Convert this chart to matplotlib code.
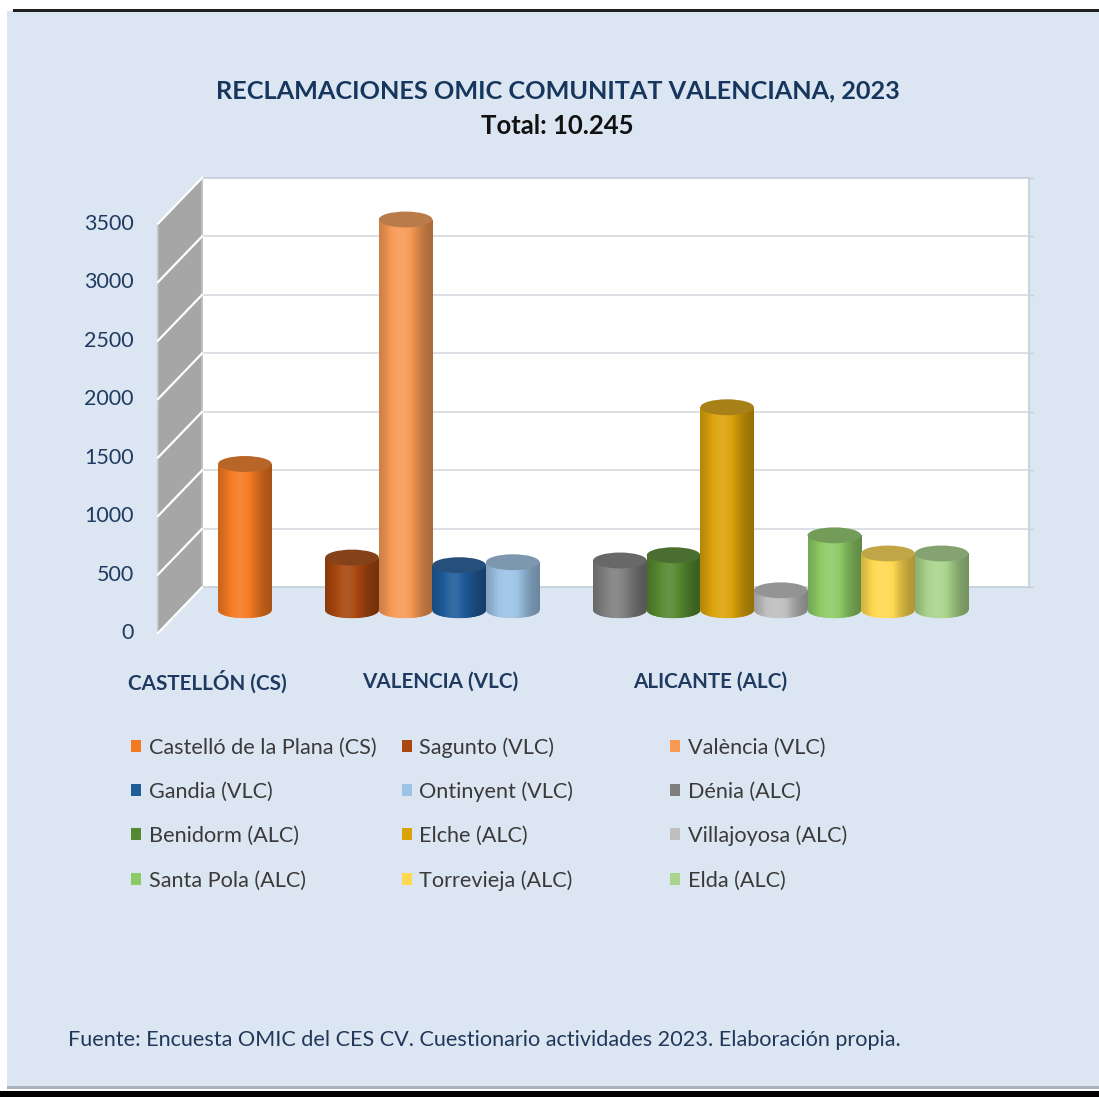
import numpy as np
import matplotlib
matplotlib.use("Agg")
import matplotlib.pyplot as plt
from matplotlib.patches import Rectangle, Ellipse, Polygon
from matplotlib.colors import to_rgb

plt.rcParams['font.family'] = ['Lato', 'DejaVu Sans']

# ---------------- data ----------------
title = "RECLAMACIONES OMIC COMUNITAT VALENCIANA, 2023"
subtitle = "Total: 10.245"
source = "Fuente: Encuesta OMIC del CES CV. Cuestionario actividades 2023. Elaboración propia."

provinces = ["CASTELLÓN (CS)", "VALENCIA (VLC)", "ALICANTE (ALC)"]
municipalities = ["Castelló de la Plana (CS)", "Sagunto (VLC)", "València (VLC)",
                  "Gandia (VLC)", "Ontinyent (VLC)", "Dénia (ALC)",
                  "Benidorm (ALC)", "Elche (ALC)", "Villajoyosa (ALC)",
                  "Santa Pola (ALC)", "Torrevieja (ALC)", "Elda (ALC)"]
province_of = [0, 1, 1, 1, 1, 2, 2, 2, 2, 2, 2, 2]
claims = [1250, 450, 3340, 385, 410, 425, 470, 1735, 170, 640, 485, 485]
colors = ["#F47A22", "#A8470F", "#F79A55", "#1F5C9A", "#9DC3E6", "#7F7F7F",
          "#55892F", "#DBA30A", "#BFBFBF", "#8DCB66", "#FFD94F", "#A9D48C"]
y_ticks = [0, 500, 1000, 1500, 2000, 2500, 3000, 3500]

# ---------------- figure ----------------
W, H = 1099, 1097
fig = plt.figure(figsize=(W / 100, H / 100), dpi=100)
fig.patch.set_facecolor("white")

def fx(x):
    return x / W

def fy(y):
    return 1 - y / H

# background panel and frame lines
fig.patches.append(Rectangle((fx(7), fy(1086)), fx(1099 - 7), (1086 - 11) / H,
                             transform=fig.transFigure, facecolor="#DCE6F2",
                             edgecolor="none", zorder=-10))
fig.patches.append(Rectangle((fx(13), fy(12)), fx(1099 - 13), 3 / H,
                             transform=fig.transFigure, facecolor="#202020",
                             edgecolor="none", zorder=-9))
fig.patches.append(Rectangle((fx(7), fy(1089)), fx(1099 - 7), 3 / H,
                             transform=fig.transFigure, facecolor="#A9B3BE",
                             edgecolor="none", zorder=-9))
fig.patches.append(Rectangle((0, 0), 1, 6 / H,
                             transform=fig.transFigure, facecolor="#000000",
                             edgecolor="none", zorder=-9))

navy = "#1F3A60"

fig.text(fx(558), fy(91), title, ha="center", va="center", fontsize=18.2,
         fontweight="bold", color="#17365D")
fig.text(fx(557), fy(126), subtitle, ha="center", va="center", fontsize=18.5,
         fontweight="bold", color="#111111")

# ---------------- axes (oblique 3D look) ----------------
ax = fig.add_axes([fx(143), fy(657), 895 / W, 503 / H])
ax.set_xlim(-1.9, 14.8)
ax.set_ylim(-400, 3900)
ax.axis("off")
ax.patch.set_alpha(0)

dx, dy = 0.41, 195          # depth offsets (slot units, value units)
xl, xr = -1.21, 14.23       # mid-depth horizontal extent
ymax = y_ticks[-1]

# back wall
ax.add_patch(Rectangle((xl + dx, dy), (xr - xl), ymax, facecolor="white",
                       edgecolor="#C5CED9", lw=1.2, zorder=0))
for v in y_ticks[1:-1]:
    ax.plot([xl + dx, xr + dx], [v + dy, v + dy], color="#D9DDE3", lw=1.3, zorder=1)
for v in y_ticks:
    ax.plot([xr + dx, xr + dx + 0.07], [v + dy, v + dy], color="#C5CED9", lw=1, zorder=1)

# side wall
ax.add_patch(Polygon([(xl - dx, -dy), (xl - dx, ymax - dy), (xl + dx, ymax + dy),
                      (xl + dx, dy)], closed=True, facecolor="#A6A6A6",
                     edgecolor="#BFBFBF", lw=1, zorder=0))
for v in y_ticks:
    ax.plot([xl - dx, xl + dx], [v - dy, v + dy], color="white", lw=1.6, zorder=1)

# tick labels at the front edge
for v in y_ticks:
    ax.text(xl - dx - 0.45, v - dy, str(v), ha="right", va="center",
            fontsize=15.5, color=navy)

# ---------------- cylinders ----------------
positions = [i + p for i, p in enumerate(province_of)]
bw = 1.0
eh = 68   # half height of cylinder ellipses in value units

t = np.linspace(0, 1, 200)
prof = 0.75 + 0.38 * np.exp(-((t - 0.42) / 0.33) ** 2) - 0.08 * t

def shade(rgb, f):
    rgb = np.asarray(rgb)[None, :]
    f = np.asarray(f)[:, None]
    out = np.where(f >= 1, rgb + (1 - rgb) * (f - 1), rgb * f)
    return np.clip(out, 0, 1)

bars = ax.bar(positions, claims, width=bw, bottom=0, color=colors,
              edgecolor="none", zorder=3)

for k, (rect, pos, val, col) in enumerate(zip(bars, positions, claims, colors)):
    z = 3 + k * 0.01
    base = np.array(to_rgb(col))
    img = shade(base, prof)[None, :, :]
    rect.set_zorder(z)
    bottom = Ellipse((pos, 0), bw, 2 * eh, facecolor=col, edgecolor="none", zorder=z)
    ax.add_patch(bottom)
    for clip in (rect, bottom):
        im = ax.imshow(img, extent=(pos - bw / 2, pos + bw / 2, -eh, val),
                       aspect="auto", interpolation="bilinear", origin="lower",
                       zorder=z + 0.001)
        im.set_clip_path(clip)
    top_col = 0.78 * base * 0.88 + 0.12 * np.array([0.55, 0.55, 0.55])
    ax.add_patch(Ellipse((pos, val), bw, 2 * eh, facecolor=np.clip(top_col, 0, 1),
                         edgecolor="none", zorder=z + 0.002))

ax.set_xlim(-1.9, 14.8)
ax.set_ylim(-400, 3900)

# ---------------- category labels ----------------
group_left_px = [128, 362, 633]
for name, xp in zip(provinces, group_left_px):
    fig.text(fx(xp), fy(682), name, ha="left", va="center", fontsize=14.9,
             fontweight="bold", color=navy)

# ---------------- legend ----------------
col_sq_px = [131, 402, 670]
col_tx_px = [149, 419, 688]
row_px = [746, 790, 834, 879]
for i, (name, col) in enumerate(zip(municipalities, colors)):
    r, c = divmod(i, 3)
    fig.patches.append(Rectangle((fx(col_sq_px[c]), fy(row_px[r] + 6)), 10 / W, 12 / H,
                                 transform=fig.transFigure, facecolor=col,
                                 edgecolor="none"))
    fig.text(fx(col_tx_px[c]), fy(row_px[r] + 2), name, ha="left", va="center",
             fontsize=15.6, color="#3A3A3A")

fig.text(fx(68), fy(1040), source, ha="left", va="center", fontsize=15.6,
         color="#22385A")

fig.savefig("out.png", dpi=100, facecolor=fig.get_facecolor())
